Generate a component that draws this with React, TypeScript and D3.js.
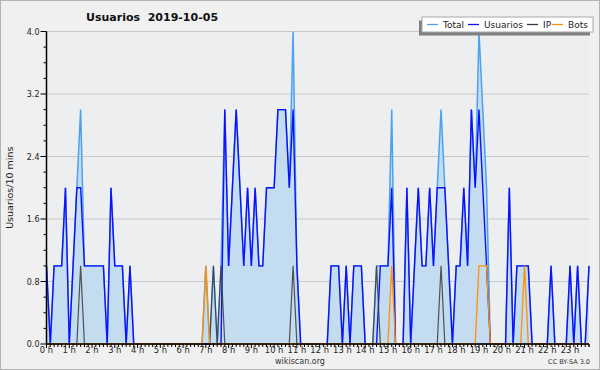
import React from 'react';
import * as d3 from 'd3';

const title = 'Usuarios  2019-10-05';
const yLabel = 'Usuarios/10 mins';
const hourLabels = ['0 h','1 h','2 h','3 h','4 h','5 h','6 h','7 h','8 h','9 h','10 h','11 h','12 h','13 h','14 h','15 h','16 h','17 h','18 h','19 h','20 h','21 h','22 h','23 h'];
const yTicks = [0, 0.8, 1.6, 2.4, 3.2, 4.0];
const legendNames = ['Total', 'Usuarios', 'IP', 'Bots'];

// 10-minute slots, 144 per day
const usuarios = [
  1,0,1,1,1,2, 0,1,2,2,1,1, 1,1,1,1,0,2, 1,1,1,0,1,0,
  0,0,0,0,0,0, 0,0,0,0,0,0, 0,0,0,0,0,0, 0,0,0,0,0,3,
  1,2,3,2,1,2, 1,2,1,1,2,2, 2,3,3,3,2,3, 1,0,0,0,0,0,
  0,0,0,1,1,1, 0,1,0,1,1,1, 0,0,0,0,1,1, 1,2,0,0,0,2,
  0,1,2,1,1,2, 1,2,2,2,1,0, 1,1,2,1,3,2, 3,2,1,0,0,0,
  0,0,2,0,1,1, 1,1,0,0,0,0, 0,1,0,0,0,0, 1,0,1,0,0,1,
];
const total = [
  1,0,1,1,1,2, 0,1,2,3,1,1, 1,1,1,1,0,2, 1,1,1,0,1,0,
  0,0,0,0,0,0, 0,0,0,0,0,0, 0,0,0,0,0,0, 1,0,1,0,1,3,
  1,2,3,2,1,2, 1,2,1,1,2,2, 2,3,3,3,2,4, 1,0,0,0,0,0,
  0,0,0,1,1,1, 0,1,0,1,1,1, 0,0,0,1,1,1, 1,3,0,0,0,2,
  0,1,2,1,1,2, 1,2,3,2,1,0, 1,1,2,1,3,2, 4,3,2,0,0,0,
  0,0,2,0,1,1, 1,1,0,0,0,0, 0,1,0,0,0,0, 1,0,1,0,0,1,
];
const ip = [
  0,0,0,0,0,0, 0,0,0,1,0,0, 0,0,0,0,0,0, 0,0,0,0,0,0,
  0,0,0,0,0,0, 0,0,0,0,0,0, 0,0,0,0,0,0, 0,0,1,0,1,0,
  0,0,0,0,0,0, 0,0,0,0,0,0, 0,0,0,0,0,1, 0,0,0,0,0,0,
  0,0,0,0,0,0, 0,0,0,0,0,0, 0,0,0,1,0,0, 0,0,0,0,0,0,
  0,0,0,0,0,0, 0,0,1,0,0,0, 0,0,0,0,0,0, 0,0,0,0,0,0,
  0,0,0,0,0,0, 0,0,0,0,0,0, 0,0,0,0,0,0, 0,0,0,0,0,0,
];
const bots = [
  0,0,0,0,0,0, 0,0,0,0,0,0, 0,0,0,0,0,0, 0,0,0,0,0,0,
  0,0,0,0,0,0, 0,0,0,0,0,0, 0,0,0,0,0,0, 1,0,0,0,0,0,
  0,0,0,0,0,0, 0,0,0,0,0,0, 0,0,0,0,0,0, 0,0,0,0,0,0,
  0,0,0,0,0,0, 0,0,0,0,0,0, 0,0,0,0,0,0, 0,1,0,0,0,0,
  0,0,0,0,0,0, 0,0,0,0,0,0, 0,0,0,0,0,0, 1,1,1,0,0,0,
  0,0,0,0,0,0, 1,0,0,0,0,0, 0,0,0,0,0,0, 0,0,0,0,0,0,
];

const W = 600, H = 370;
const L = 46.5, R = 589, T = 31.5, B = 344;
const FONT = 'DejaVu Sans, sans-serif';
const colors = { total: '#4aa3f0', fill: '#c4dcf0', usuarios: '#1010ff', ip: '#3a3a3a', bots: '#ff9000' };

export default function App() {
  const x = d3.scaleLinear().domain([0, 143]).range([L, R]);
  const y = d3.scaleLinear().domain([0, 4]).range([B, T]);
  const line = d3.line<number>().x((_, i) => x(i)).y(d => y(d));
  const area = d3.area<number>().x((_, i) => x(i)).y0(B).y1(d => y(d));
  const minorY = d3.range(0, 4.0001, 0.2);
  const minorX = d3.range(0, 144);
  const legendColors = [colors.total, colors.usuarios, colors.ip, colors.bots];
  const legendX = [427, 468, 527, 552];
  return (
    <svg width={W} height={H} style={{ position: 'absolute', left: 0, top: 0 }} fontFamily={FONT}>
      <rect x={0.5} y={0.5} width={W - 1} height={H - 1} fill="#f0f0f0" stroke="#b4b4b4" />
      <rect x={L} y={T} width={R - L} height={B - T} fill="#edeef0" />
      {yTicks.filter(t => t > 0).map(t => (
        <line key={t} x1={L} x2={R} y1={y(t)} y2={y(t)} stroke="#c8c8c8" strokeWidth={1} />
      ))}
      <path d={area(total) || ''} fill={colors.fill} />
      <path d={line(total) || ''} fill="none" stroke={colors.total} strokeWidth={1.5} />
      <path d={line(usuarios) || ''} fill="none" stroke={colors.usuarios} strokeWidth={1.4} />
      <path d={line(ip) || ''} fill="none" stroke={colors.ip} strokeWidth={1.2} strokeOpacity={0.85} />
      <path d={line(bots) || ''} fill="none" stroke={colors.bots} strokeWidth={1.3} />
      {/* axes */}
      <line x1={L} x2={L} y1={T} y2={B} stroke="#000" strokeWidth={1.5} />
      <line x1={L} x2={R} y1={B} y2={B} stroke="#000" strokeWidth={1.5} />
      {minorY.map((t, i) => (
        <line key={'my' + i} x1={L - (i % 4 === 0 ? 6 : 3)} x2={L} y1={y(t)} y2={y(t)} stroke="#000" strokeWidth={1} />
      ))}
      {yTicks.map(t => (
        <text key={'yl' + t} x={L - 7} y={y(t) + 3} fontSize={8} textAnchor="end" fill="#222">{t.toFixed(1)}</text>
      ))}
      {minorX.map(i => (
        <line key={'mx' + i} x1={x(i)} x2={x(i)} y1={B} y2={B + (i % 6 === 0 ? 4 : 3)} stroke="#000" strokeWidth={1} />
      ))}
      <line x1={R} x2={R} y1={B} y2={B + 3} stroke="#000" strokeWidth={1} />
      {hourLabels.map((h, k) => (
        <text key={h} x={x(k * 6)} y={353} fontSize={8.4} textAnchor="middle" fill="#222">{h}</text>
      ))}
      <text x={86} y={21} fontSize={11} fontWeight="bold" fill="#111" style={{ whiteSpace: 'pre' }} xmlSpace="preserve">{title}</text>
      <text transform={`translate(13, ${(T + B) / 2}) rotate(-90)`} fontSize={9.5} textAnchor="middle" fill="#222">{yLabel}</text>
      <text x={300} y={364} fontSize={8} textAnchor="middle" fill="#333">wikiscan.org</text>
      <text x={590} y={364} fontSize={6.5} textAnchor="end" fill="#333">CC BY-SA 3.0</text>
      {/* legend */}
      <rect x={419} y={20.5} width={171} height={15} fill="#808080" />
      <rect x={422} y={17} width={171} height={15} fill="#fff" stroke="#a8a8a8" strokeWidth={1} />
      {legendNames.map((n, k) => (
        <g key={n}>
          <line x1={legendX[k]} x2={legendX[k] + 11} y1={24.5} y2={24.5} stroke={legendColors[k]} strokeWidth={1.3} />
          <text x={legendX[k] + 16} y={28} fontSize={9} fill="#222">{n}</text>
        </g>
      ))}
    </svg>
  );
}
